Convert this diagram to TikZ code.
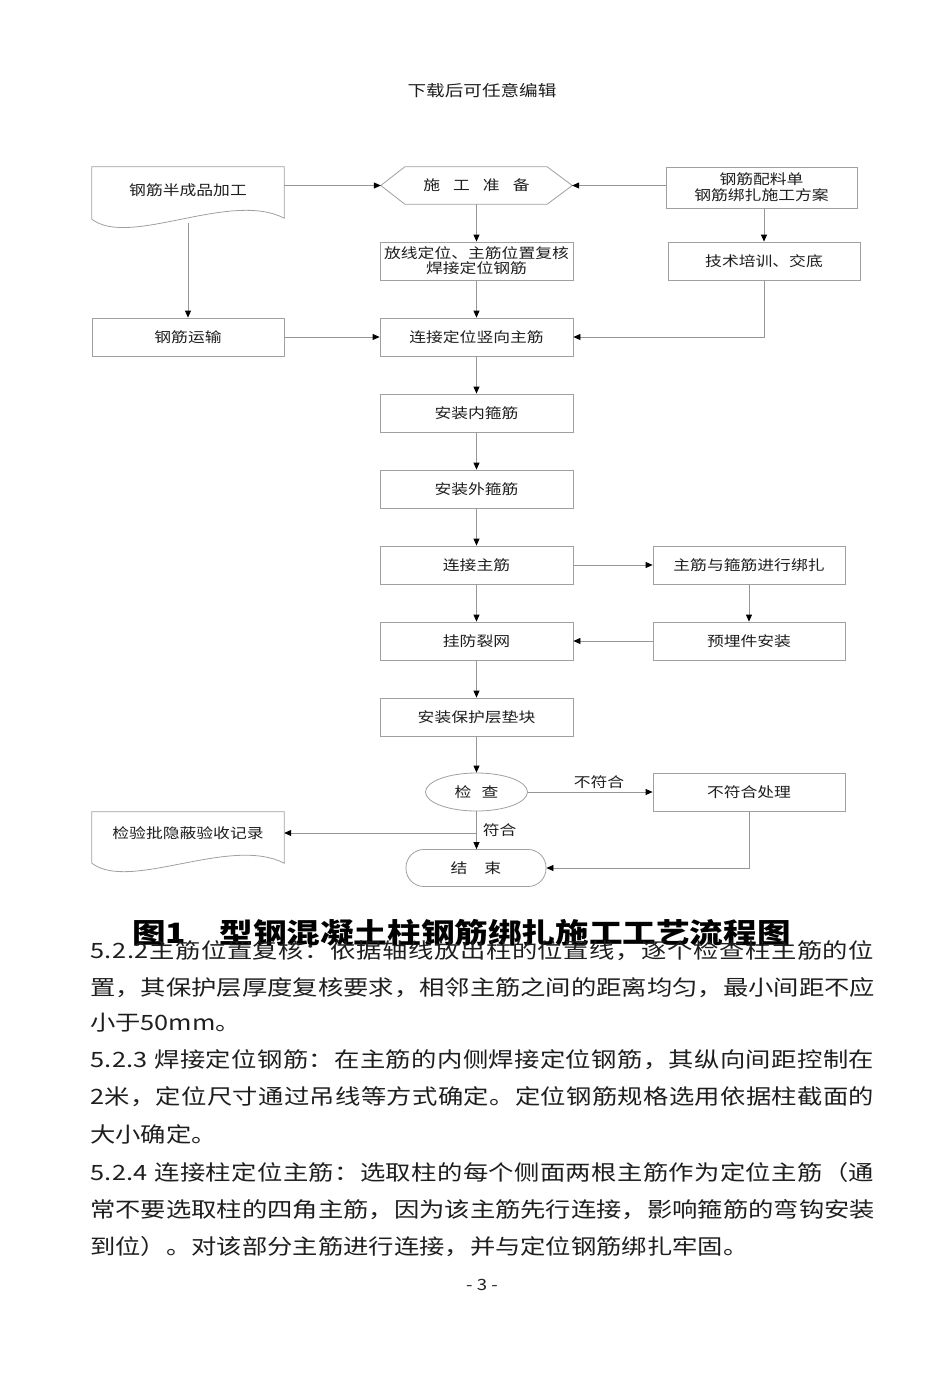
\documentclass[tikz,border=0pt]{standalone}
\usepackage{fontspec}
\setmainfont{Noto Sans CJK SC}[FakeStretch=1.2]
\usetikzlibrary{arrows.meta,shapes.geometric}
\definecolor{boxgray}{HTML}{A0A0A0}
\definecolor{linegray}{HTML}{969696}
\definecolor{inkc}{HTML}{1E1E1E}
\newcommand\flowfont{\fontsize{14}{17}\selectfont}
\newcommand\bodyfont{\fontsize{21.1}{25}\selectfont}
\newcommand\capfont{\fontsize{28}{32}\selectfont\bfseries}
\newcommand\headfont{\fontsize{15.5}{18}\selectfont}
\makeatletter
\def\jl@first#1{#1\jl@rest}
\def\jl@rest#1{\ifx#1\@nil\else\hskip0pt plus 1fil #1\expandafter\jl@rest\fi}
\newcommand\jline[1]{\hbox to 784pt{\jl@first#1\@nil}}
\makeatother
\begin{document}
\begin{tikzpicture}[x=1pt,y=-1pt,
  boxline/.style={draw=boxgray,line width=0.8pt},
  box/.style={boxline,rectangle,minimum width=193pt,minimum height=38pt,inner sep=0pt,font=\flowfont,text=inkc,align=center},
  plain/.style={rectangle,minimum width=192pt,inner sep=0pt,font=\flowfont,text=inkc,align=center},
  conn/.style={draw=linegray,line width=0.8pt,-{Triangle[length=7pt,width=6pt,color=black]}},
  lbl/.style={font=\flowfont,text=inkc,inner sep=1pt},
  bodyline/.style={font=\bodyfont,text=inkc,anchor=west,inner sep=0pt}]
\useasboundingbox[fill=white] (0,0) rectangle (950,1378);

% header
\node[font=\headfont,text=inkc] (head) at (482,91) {下载后可任意编辑};

% top row
\node[plain,minimum height=46pt] (doc1) at (188,190) {钢筋半成品加工};
\draw[boxline] (doc1.north west) -- (doc1.north east) -- ([yshift=-5pt]doc1.south east)
  .. controls ([xshift=-54pt,yshift=23pt]doc1.south east) and ([xshift=38pt,yshift=-35pt]doc1.south west) .. ([yshift=-6pt]doc1.south west) -- cycle;

\node[plain,minimum width=191pt,minimum height=37pt] (prep) at (476.5,185.5) {施\hspace{13pt}工\hspace{13pt}准\hspace{13pt}备};
\draw[boxline] (prep.west) -- ([xshift=24pt]prep.north west) -- ([xshift=-25pt]prep.north east) -- (prep.east)
  -- ([xshift=-25pt]prep.south east) -- ([xshift=24pt]prep.south west) -- cycle;

\node[box,minimum width=191pt,minimum height=41pt] (mat) at (761.5,187.5) {钢筋配料单\\[-1pt]钢筋绑扎施工方案};

% second row
\node[box] (fang) at (476.5,261) {放线定位、主筋位置复核\\[-2pt]焊接定位钢筋};
\node[box,minimum width=192pt] (train) at (764,261) {技术培训、交底};

% third row
\node[box,minimum width=192pt] (trans) at (188,337) {钢筋运输};
\node[box] (conn1) at (476.5,337) {连接定位竖向主筋};

% main column
\node[box] (inner) at (476.5,413) {安装内箍筋};
\node[box] (outer) at (476.5,489) {安装外箍筋};
\node[box] (mainbar) at (476.5,565) {连接主筋};
\node[box,minimum width=192pt] (bind) at (749,565) {主筋与箍筋进行绑扎};
\node[box] (hang) at (476.5,641) {挂防裂网};
\node[box,minimum width=192pt] (embed) at (749,641) {预埋件安装};
\node[box] (prot) at (476.5,717) {安装保护层垫块};
\node[boxline,ellipse,minimum width=102pt,minimum height=38pt,inner sep=0pt,font=\flowfont,text=inkc] (check) at (476.5,792) {检\hspace{10pt}查};
\node[box,minimum width=192pt] (nonc) at (749,792) {不符合处理};
\node[boxline,rectangle,rounded corners=18pt,minimum width=140pt,minimum height=37pt,inner sep=0pt,font=\flowfont,text=inkc] (fin) at (476,868) {结\hspace{17pt}束};

\node[plain,minimum height=42pt] (doc2) at (188,833) {检验批隐蔽验收记录};
\draw[boxline] (doc2.north west) -- (doc2.north east) -- ([yshift=-9pt]doc2.south east)
  .. controls ([xshift=-54pt,yshift=19pt]doc2.south east) and ([xshift=38pt,yshift=-38pt]doc2.south west) .. ([yshift=-9pt]doc2.south west) -- cycle;

% connectors
\draw[conn] (doc1.east |- prep.west) -- (prep.west);
\draw[conn] (mat.west |- prep.east) -- (prep.east);
\draw[conn] (prep.south) -- (fang.north);
\draw[conn] (mat.south -| train.north) -- (train.north);
\draw[conn] ([yshift=-10pt]doc1.south) -- (trans.north);
\draw[conn] (fang.south) -- (conn1.north);
\draw[conn] (train.south) |- (conn1.east);
\draw[conn] (trans.east) -- (conn1.west);
\draw[conn] (conn1.south) -- (inner.north);
\draw[conn] (inner.south) -- (outer.north);
\draw[conn] (outer.south) -- (mainbar.north);
\draw[conn] (mainbar.east) -- (bind.west);
\draw[conn] (bind.south) -- (embed.north);
\draw[conn] (embed.west) -- (hang.east);
\draw[conn] (mainbar.south) -- (hang.north);
\draw[conn] (hang.south) -- (prot.north);
\draw[conn] (prot.south) -- (check.north);
\draw[conn] (check.east) -- (nonc.west) node[lbl,pos=0.57,above=2pt] (lno) {不符合};
\draw[conn] (check.south) -- (check.south |- fin.north) node[lbl,pos=0.5,right=5pt] (lyes) {符合};
\coordinate (br) at (check.south |- doc2.east);
\draw[conn] (br) -- (doc2.east);
\draw[conn] (nonc.south) |- (fin.east);

% caption
\node[font=\capfont,text=black] (cap) at (461.5,933) {图1\hspace{33pt}型钢混凝土柱钢筋绑扎施工工艺流程图};

% body text
\node[bodyline] (l1) at (90,951) {\jline{5.2.2主筋位置复核：依据轴线放出柱的位置线，逐个检查柱主筋的位}};
\node[bodyline] (l2) at (90,988) {\jline{置，其保护层厚度复核要求，相邻主筋之间的距离均匀，最小间距不应}};
\node[bodyline] (l3) at (90,1023) {小于50mm。};
\node[bodyline] (l4) at (90,1060) {\jline{5.2.3\ 焊接定位钢筋：在主筋的内侧焊接定位钢筋，其纵向间距控制在}};
\node[bodyline] (l5) at (90,1097) {\jline{2米，定位尺寸通过吊线等方式确定。定位钢筋规格选用依据柱截面的}};
\node[bodyline] (l6) at (90,1134) {大小确定。};
\node[bodyline] (l7) at (90,1172) {\jline{5.2.4\ 连接柱定位主筋：选取柱的每个侧面两根主筋作为定位主筋（通}};
\node[bodyline] (l8) at (90,1210) {\jline{常不要选取柱的四角主筋，因为该主筋先行连接，影响箍筋的弯钩安装}};
\node[bodyline] (l9) at (90,1247) {到位）。对该部分主筋进行连接，并与定位钢筋绑扎牢固。};

\node[font=\headfont,text=inkc] (pg) at (482,1285) {- 3 -};
\end{tikzpicture}
\end{document}
